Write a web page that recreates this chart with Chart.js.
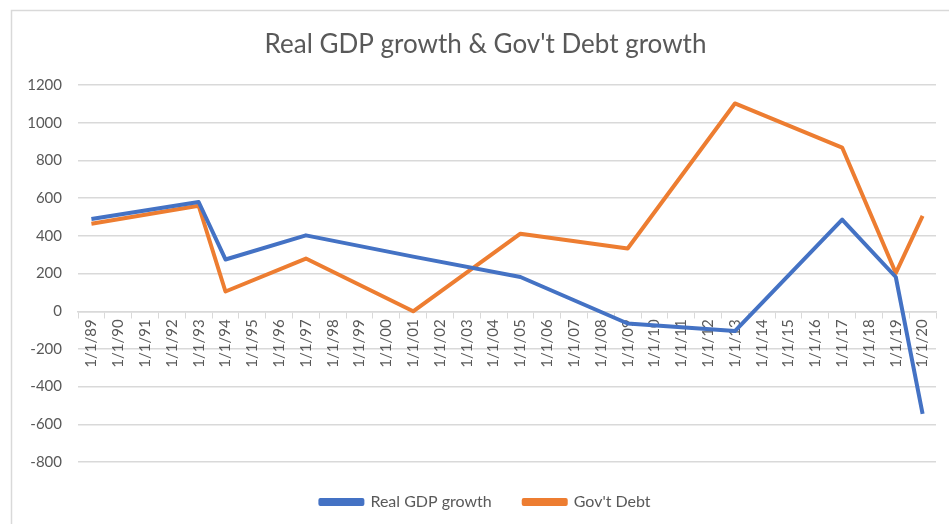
<!doctype html>
<html>
<head>
    <title>Real GDP growth & Gov't Debt growth</title>
    <meta charset="UTF-8">
    <script src="https://cdn.jsdelivr.net/npm/chart.js@4.4.1/dist/chart.umd.min.js"></script>
    <style>
        html, body { margin: 0; padding: 0; background: #ffffff; }
        #holder { position: relative; width: 949px; height: 524px; }
    </style>
</head>
<body>
<div id="holder">
    <canvas id="chart-area"></canvas>
</div>
<script>
    // x categories (every year, only some have values)
    var labels = ['1/1/89', '1/1/90', '1/1/91', '1/1/92', '1/1/93', '1/1/94', '1/1/95', '1/1/96',
        '1/1/97', '1/1/98', '1/1/99', '1/1/00', '1/1/01', '1/1/02', '1/1/03', '1/1/04',
        '1/1/05', '1/1/06', '1/1/07', '1/1/08', '1/1/09', '1/1/10', '1/1/11', '1/1/12',
        '1/1/13', '1/1/14', '1/1/15', '1/1/16', '1/1/17', '1/1/18', '1/1/19', '1/1/20'];

    var gdpGrowth = [490, null, null, null, 580, 275, null, null,
        403, null, null, null, 290, null, null, null,
        182, null, null, null, -65, null, null, null,
        -105, null, null, null, 487, null, 182, -545];

    var debtGrowth = [465, null, null, null, 560, 105, null, null,
        280, null, null, null, 0, null, null, null,
        412, null, null, null, 333, null, null, null,
        1103, null, null, null, 869, null, 203, 506];

    var seriesNames = ['Real GDP growth', "Gov't Debt"];
    var yTicks = { min: -800, max: 1200, step: 200 };

    var gray = '#595959';
    var gridGray = '#d9d9d9';

    // light frame round the chart, like the excel chart border
    var framePlugin = {
        id: 'frame',
        beforeDraw: function (chart) {
            var c = chart.ctx;
            c.save();
            c.strokeStyle = gridGray;
            c.lineWidth = 1.5;
            c.beginPath();
            c.moveTo(11.5, chart.height);
            c.lineTo(11.5, 10.5);
            c.lineTo(chart.width, 10.5);
            c.stroke();
            c.restore();
        }
    };

    var config = {
        type: 'line',
        data: {
            labels: labels,
            datasets: [
                {
                    label: seriesNames[0],
                    data: gdpGrowth,
                    borderColor: '#4472C4',
                    backgroundColor: '#4472C4',
                    borderWidth: 4,
                    pointRadius: 0,
                    tension: 0,
                    spanGaps: true,
                    borderJoinStyle: 'round'
                },
                {
                    label: seriesNames[1],
                    data: debtGrowth,
                    borderColor: '#ED7D31',
                    backgroundColor: '#ED7D31',
                    borderWidth: 4,
                    pointRadius: 0,
                    tension: 0,
                    spanGaps: true,
                    borderJoinStyle: 'round'
                }
            ]
        },
        options: {
            responsive: false,
            animation: false,
            layout: {
                // title/legend are centred in the (wider) excel frame
                padding: { left: 35, right: 13, top: 8, bottom: 4 }
            },
            plugins: {
                title: {
                    display: true,
                    text: "Real GDP growth & Gov't Debt growth",
                    color: gray,
                    font: { family: 'Lato', size: 26, weight: 'normal' },
                    padding: { top: 21, bottom: 25 }
                },
                legend: {
                    position: 'bottom',
                    labels: {
                        color: gray,
                        font: { family: 'Lato', size: 16 },
                        boxWidth: 42,
                        boxHeight: 4,
                        padding: 32
                    }
                },
                tooltip: { enabled: false }
            },
            scales: {
                x: {
                    position: { y: 0 },
                    offset: true,
                    grid: {
                        offset: true,
                        drawOnChartArea: false,
                        tickLength: 6,
                        color: gridGray
                    },
                    border: { color: gridGray, width: 1.5 },
                    ticks: {
                        autoSkip: false,
                        minRotation: 90,
                        maxRotation: 90,
                        color: gray,
                        padding: 2,
                        font: { family: 'Lato', size: 15 }
                    }
                },
                y: {
                    min: yTicks.min,
                    max: yTicks.max,
                    afterFit: function (scale) {
                        scale.width = 43;
                        // labels hang out past the narrowed box, so don't clip them
                        scale._computeLabelArea = function () { return undefined; };
                    },
                    grid: { color: gridGray, lineWidth: 1.5, drawTicks: false },
                    border: { display: false },
                    ticks: {
                        stepSize: yTicks.step,
                        color: gray,
                        padding: 16,
                        font: { family: 'Lato', size: 15 },
                        callback: function (v) { return String(v); }
                    }
                }
            }
        },
        plugins: [framePlugin]
    };

    var canvas = document.getElementById('chart-area');
    canvas.width = 949;
    canvas.height = 524;
    window.myLine = new Chart(canvas.getContext('2d'), config);
</script>
</body>
</html>
